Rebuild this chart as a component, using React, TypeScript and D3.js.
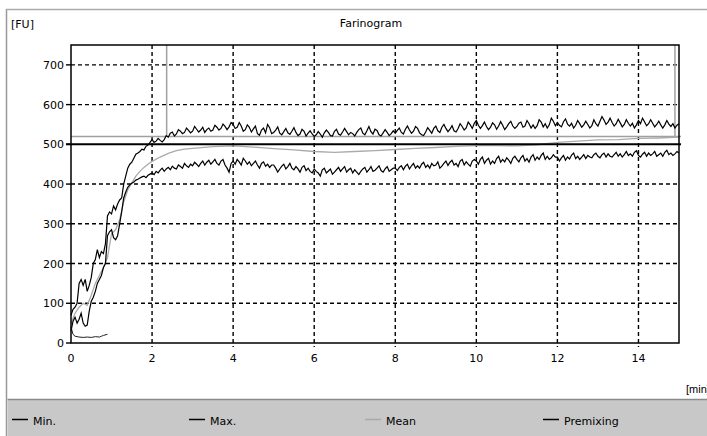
import React from "react";
import * as d3 from "d3";

const W = 707;
const H = 436;

const TIME_STEP = 0.05; // minutes between samples of the min/max curves

// Max. curve, one row per minute (20 samples), last value at 15.0 min
const maxValues = [
  70, 85, 90, 100, 150, 160, 145, 160, 130, 145, 165, 200, 210, 235, 215, 230, 225, 250, 320, 330,
  325, 345, 335, 350, 360, 365, 400, 420, 440, 450, 455, 465, 475, 478, 482, 488, 486, 495, 498, 505,
  512, 505, 508, 515, 510, 506, 512, 522, 518, 528, 531, 521, 526, 537, 533, 527, 530, 541, 535, 529,
  533, 545, 538, 531, 536, 543, 530, 537, 541, 533, 536, 548, 543, 536, 540, 551, 545, 537, 544, 555,
  550, 540, 543, 555, 546, 533, 537, 549, 543, 531, 539, 546, 527, 523, 536, 541, 529, 550, 542, 527,
  530, 536, 544, 528, 524, 532, 540, 529, 525, 533, 542, 530, 522, 526, 538, 533, 521, 528, 534, 526,
  520, 524, 532, 526, 518, 529, 536, 530, 522, 521, 533, 538, 526, 523, 531, 540, 532, 524, 530, 527,
  521, 530, 537, 541, 528, 524, 534, 545, 532, 526, 538, 535, 524, 521, 529, 537, 530, 522, 527, 534,
  528, 535, 541, 530, 526, 538, 546, 536, 528, 533, 545, 540, 529, 524, 522, 531, 542, 535, 528, 540,
  546, 534, 530, 543, 550, 540, 532, 538, 547, 534, 531, 540, 552, 545, 536, 541, 556, 549, 540, 553,
  560, 548, 540, 547, 556, 545, 537, 543, 554, 549, 538, 546, 557, 548, 537, 544, 552, 558, 546, 540,
  545, 553, 556, 543, 546, 560, 552, 541, 549, 540, 547, 562, 556, 544, 552, 541, 549, 566, 558, 547,
  555, 548, 544, 557, 564, 551, 546, 553, 541, 548, 560, 552, 543, 549, 558, 550, 541, 547, 562, 552,
  546, 558, 570, 561, 550, 556, 566, 555, 546, 552, 563, 554, 544, 550, 562, 553, 546, 553, 541, 549,
  560, 552, 566, 557, 547, 552, 562, 553, 544, 550, 558, 549, 541, 549, 560, 551, 545, 552, 541, 548,
  552,
];

// Min. curve, one row per minute (20 samples), last value at 15.0 min
const minValues = [
  30, 55, 65, 50, 60, 75, 50, 42, 45, 80, 105, 115, 130, 150, 160, 170, 190, 200, 270, 280,
  285, 265, 260, 270, 300, 330, 365, 380, 392, 398, 402, 405, 410, 412, 415, 418, 420, 416, 422, 425,
  428, 424, 432, 428, 435, 440, 432, 438, 442, 436, 445, 440, 438, 448, 444, 440, 452, 446, 442, 450,
  446, 455, 450, 444, 452, 458, 448, 455, 460, 450, 456, 462, 452, 448, 458, 462, 448, 440, 430, 452,
  458, 450, 462, 456, 448, 465, 458, 450, 456, 446, 452, 458, 448, 440, 452, 456, 445, 450, 442, 448,
  448, 440, 430, 438, 445, 450, 438, 444, 452, 440, 436, 444, 438, 430, 442, 446, 434, 440, 432, 428,
  438, 432, 428, 420, 436, 440, 428, 433, 438, 425, 430, 436, 442, 432, 438, 444, 430, 436, 440, 428,
  436, 430, 424, 432, 438, 442, 430, 436, 444, 432, 435, 440, 446, 434, 430, 438, 444, 432, 436, 440,
  440, 434, 442, 446, 436, 445, 450, 438, 446, 452, 440, 446, 440, 450, 455, 442, 448, 440, 452, 446,
  448, 456, 440, 445, 452, 458, 447, 455, 460, 448, 452, 444, 458, 462, 448, 456, 450, 445, 458, 462,
  458, 450, 462, 468, 452, 460, 465, 450, 458, 452, 464, 470, 455, 462, 456, 466, 460, 452, 465, 470,
  462, 456, 466, 472, 458, 464, 455, 468, 474, 460, 468, 462, 472, 478, 462, 470, 462, 466, 474, 468,
  468, 458, 466, 472, 460, 468, 463, 473, 478, 464, 470, 462, 468, 474, 464, 472, 468, 466, 474, 478,
  470, 466, 474, 478, 468, 476, 470, 468, 474, 480, 470, 476, 468, 474, 482, 472, 476, 470, 480, 484,
  472, 468, 475, 480, 470, 478, 472, 476, 482, 470, 474, 478, 470, 480, 485, 474, 478, 472, 476, 482,
  478,
];

const meanTimes = [
  0, 0.1, 0.2, 0.3, 0.4, 0.5, 0.6, 0.7, 0.8, 0.9,
  1.0, 1.1, 1.2, 1.3, 1.4, 1.5, 1.6, 1.7, 1.8, 1.9,
  2.0, 2.2, 2.4, 2.6, 2.8, 3.0, 3.5, 4.0, 4.5, 5.0,
  5.5, 6.0, 6.5, 7.0, 7.5, 8.0, 8.5, 9.0, 9.5, 10.0,
  10.5, 11.0, 11.5, 12.0, 12.5, 13.0, 13.5, 14.0, 14.5, 15.0,
];
const meanValues = [
  50, 75, 90, 100, 95, 120, 150, 170, 190, 215,
  275, 285, 310, 355, 385, 403, 420, 432, 442, 450,
  457, 468, 477, 484, 488, 490, 494, 496, 493, 489,
  486, 482, 480, 482, 484, 487, 490, 492, 495, 497,
  497, 496, 499, 505, 508, 511, 512, 515, 516, 518,
];

const premixTimes = [0, 0.05, 0.1, 0.2, 0.3, 0.4, 0.5, 0.6, 0.7, 0.75, 0.8, 0.9];
const premixValues = [40, 22, 17, 15, 14, 15, 14, 16, 15, 17, 19, 22];

const xTicks = [0, 2, 4, 6, 8, 10, 12, 14];
const yTicks = [0, 100, 200, 300, 400, 500, 600, 700];

const consistencyLine = 500;
const toleranceLine = 520;
const markerTimes = [2.36, 14.9];

const legendItems = [
  { label: "Min.", color: "#000" },
  { label: "Max.", color: "#000" },
  { label: "Mean", color: "#aaa" },
  { label: "Premixing", color: "#000" },
];
const legendX = [12, 189, 365, 543];

const FONT = "'DejaVu Sans', Verdana, sans-serif";
const NARROW = "'Liberation Sans', Arial, sans-serif";

export default function App() {
  const x = d3.scaleLinear().domain([0, 15]).range([71, 679]);
  const y = d3.scaleLinear().domain([0, 750]).range([343, 45]);

  const line = d3
    .line<[number, number]>()
    .x((d) => x(d[0]))
    .y((d) => y(d[1]));

  const maxPts: [number, number][] = maxValues.map((v, i) => [i * TIME_STEP, v]);
  const minPts: [number, number][] = minValues.map((v, i) => [i * TIME_STEP, v]);
  const meanPts: [number, number][] = meanValues.map((v, i) => [meanTimes[i], v]);
  const premixPts: [number, number][] = premixValues.map((v, i) => [premixTimes[i], v]);

  const [x0, x1] = x.range();
  const [y0, y1] = y.range();

  return (
    <svg
      width={W}
      height={H}
      style={{ position: "absolute", left: 0, top: 0, background: "#fff" }}
      fontFamily={FONT}
    >
      {/* outer frame */}
      <line x1={6.5} y1={9} x2={6.5} y2={H} stroke="#999" strokeWidth={1.5} />
      <line x1={6} y1={9.5} x2={W} y2={9.5} stroke="#aaa" strokeWidth={1.5} />

      {/* labels */}
      <text x={11} y={27.5} fontSize={11}>[FU]</text>
      <text x={(x0 + x1) / 2 - 4} y={27} fontSize={11} textAnchor="middle">Farinogram</text>
      <text x={686} y={393} fontSize={11} fontFamily={NARROW}>[min]</text>

      {/* grid */}
      {yTicks.filter((t) => t > 0 && t !== consistencyLine).map((t) => (
        <line key={"gy" + t} x1={x0} x2={x1} y1={y(t)} y2={y(t)} stroke="#000" strokeWidth={1.4} strokeDasharray="4,3" />
      ))}
      {xTicks.filter((t) => t > 0).map((t) => (
        <line key={"gx" + t} x1={x(t)} x2={x(t)} y1={y1} y2={y0 + 4} stroke="#000" strokeWidth={1.4} strokeDasharray="4,3" />
      ))}

      {/* y ticks */}
      {yTicks.map((t) => (
        <g key={"yt" + t}>
          <line x1={x0 - 5} x2={x0} y1={y(t)} y2={y(t)} stroke="#000" strokeWidth={1.4} />
          <text x={x0 - 7} y={y(t) + 4} fontSize={11} textAnchor="end">{t}</text>
        </g>
      ))}
      {/* x tick labels */}
      {xTicks.map((t) => (
        <text key={"xt" + t} x={x(t)} y={362} fontSize={11} textAnchor="middle">{t}</text>
      ))}

      {/* reference lines */}
      <line x1={x0} x2={x1 + 2} y1={y(toleranceLine)} y2={y(toleranceLine)} stroke="#a0a0a0" strokeWidth={1.5} />
      {markerTimes.map((t) => (
        <line key={"m" + t} x1={x(t)} x2={x(t)} y1={y1} y2={y(toleranceLine)} stroke="#a0a0a0" strokeWidth={1.5} />
      ))}

      {/* curves */}
      <path d={line(meanPts) || ""} fill="none" stroke="#aaa" strokeWidth={1.3} />
      <path d={line(maxPts) || ""} fill="none" stroke="#000" strokeWidth={1.2} />
      <path d={line(minPts) || ""} fill="none" stroke="#000" strokeWidth={1.2} />
      <path d={line(premixPts) || ""} fill="none" stroke="#222" strokeWidth={1} />

      <line x1={x0 - 5} x2={x1 + 2} y1={y(consistencyLine)} y2={y(consistencyLine)} stroke="#000" strokeWidth={2} />

      {/* plot frame */}
      <rect x={x0} y={y1} width={x1 - x0} height={y0 - y1} fill="none" stroke="#000" strokeWidth={1.5} />

      {/* legend band */}
      <rect x={7.5} y={400} width={W - 7.5} height={H - 400} fill="#c8c8c8" />
      <line x1={7.5} x2={W} y1={399.5} y2={399.5} stroke="#8a8a8a" strokeWidth={1.5} />
      {legendItems.map((it, i) => (
        <g key={it.label}>
          <line x1={legendX[i]} x2={legendX[i] + 16} y1={419.5} y2={419.5} stroke={it.color} strokeWidth={1.5} />
          <text x={legendX[i] + 21} y={424.5} fontSize={11}>{it.label}</text>
        </g>
      ))}
    </svg>
  );
}
